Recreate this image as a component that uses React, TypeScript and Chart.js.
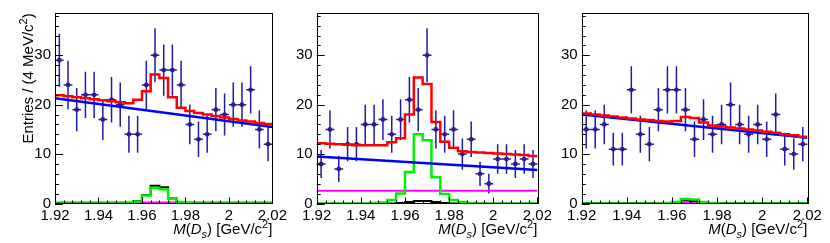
import React, { useEffect, useRef } from "react";
import { Chart, registerables } from "chart.js";
Chart.register(...registerables);

// ---------- data ----------
const binCenters = [
  1.922, 1.926, 1.93, 1.934, 1.938, 1.942, 1.946, 1.95, 1.954, 1.958, 1.962, 1.966, 1.97,
  1.974, 1.978, 1.982, 1.986, 1.99, 1.994, 1.998, 2.002, 2.006, 2.01, 2.014, 2.018,
];
const binHalfWidth = 0.002;
const xRange = [1.92, 2.02];
const xTickValues = [1.92, 1.94, 1.96, 1.98, 2.0, 2.02];
const yTickValues = [0, 10, 20, 30];
const yMax = 38.5;

// Panel 1
const dataP1 = [29, 24, 19, 22, 22, 17, 21, 20, 14, 14, 24, 30, 27, 27, 24, 16, 13, 14, 19, 18, 20, 20, 23, 15, 12];
const totalP1 = [21.9, 21.7, 21.5, 21.3, 21.1, 20.9, 20.7, 20.5, 20.3, 21.0, 22.7, 26.1, 25.4, 21.5, 19.4, 18.7, 18.3, 18.0, 17.7, 17.4, 17.1, 16.8, 16.6, 16.3, 16.1];
const bkgP1 = [21.3, 15.5];
const greenP1 = [0, 0, 0, 0, 0, 0, 0, 0, 0.1, 0.4, 1.6, 3.2, 2.9, 0.9, 0.3, 0.1, 0, 0, 0, 0, 0, 0, 0, 0, 0];
const blackP1 = [0, 0, 0, 0, 0, 0, 0, 0, 0.1, 0.5, 1.7, 3.6, 3.3, 1.0, 0.3, 0.1, 0, 0, 0, 0, 0, 0, 0, 0, 0];
const flatP1 = [0.2, 0.2];

// Panel 2
const dataP2 = [8, 15, 7, 12, 12, 16, 16, 17, 14, 17, 21, 19, 30, 15, 14, 15, 10, 13, 6, 4, 9, 9, 8, 9, 8];
const totalP2 = [12.2, 12.1, 12.0, 11.9, 11.8, 11.8, 11.8, 11.8, 12.4, 13.2, 18.0, 25.5, 24.2, 16.5, 12.5, 11.3, 10.6, 10.4, 10.3, 10.2, 10.1, 10.0, 9.9, 9.8, 9.6];
const bkgP2 = [9.5, 6.8];
const greenP2 = [0, 0, 0, 0, 0, 0, 0.1, 0.2, 0.7, 2.0, 6.4, 14.0, 12.8, 5.3, 1.9, 0.7, 0.3, 0.1, 0, 0, 0, 0, 0, 0, 0];
const blackP2 = [0, 0, 0, 0, 0, 0, 0, 0, 0, 0.1, 0.3, 0.5, 0.5, 0.3, 0.1, 0, 0, 0, 0, 0, 0, 0, 0, 0, 0];
const flatP2 = [2.6, 2.6];

// Panel 3
const dataP3 = [15, 15, 16, 11, 11, 23, 14, 12, 19, 23, 23, 19, 13, 17, 14, 16, 20, 16, 14, 16, 13, 18, 11, 10, 12];
const totalP3 = [18.2, 18.0, 17.8, 17.6, 17.4, 17.2, 17.0, 16.9, 16.7, 16.6, 16.7, 17.5, 17.3, 16.4, 15.8, 15.6, 15.4, 15.2, 15.0, 14.8, 14.5, 14.3, 14.0, 13.8, 13.5];
const bkgP3 = [18.0, 13.3];
const greenP3 = [0, 0, 0, 0, 0, 0, 0, 0, 0, 0.1, 0.3, 0.9, 0.8, 0.3, 0.1, 0, 0, 0, 0, 0, 0, 0, 0, 0, 0];
const blackP3 = [0, 0, 0, 0, 0, 0, 0, 0, 0, 0, 0.2, 0.6, 0.5, 0.2, 0, 0, 0, 0, 0, 0, 0, 0, 0, 0, 0];
const flatP3 = [0.1, 0.1];

const yTitle = ["Entries / (4 MeV/c", "2", ")"];

// ---------- layout ----------
const H = 243;
const PLOT_TOP = 13.3;
const PLOT_BOTTOM = 203.5;
const FONT = "'Liberation Sans', Arial, Helvetica, sans-serif";

type PanelCfg = {
  left: number;
  width: number;
  plotLeft: number;
  plotRight: number;
  showYTitle: boolean;
  data: number[];
  total: number[];
  bkg: number[];
  green: number[];
  black: number[];
  flat: number[];
};

const panels: PanelCfg[] = [
  { left: 0, width: 290, plotLeft: 55, plotRight: 274, showYTitle: true, data: dataP1, total: totalP1, bkg: bkgP1, green: greenP1, black: blackP1, flat: flatP1 },
  { left: 290, width: 265, plotLeft: 26.7, plotRight: 250.7, showYTitle: false, data: dataP2, total: totalP2, bkg: bkgP2, green: greenP2, black: blackP2, flat: flatP2 },
  { left: 555, width: 275, plotLeft: 26.7, plotRight: 252.3, showYTitle: false, data: dataP3, total: totalP3, bkg: bkgP3, green: greenP3, black: blackP3, flat: flatP3 },
];

const binEdges = binCenters.map((c) => c - binHalfWidth).concat([binCenters[binCenters.length - 1] + binHalfWidth]);
const stepPoints = (vals: number[]) => binEdges.map((x, i) => ({ x, y: vals[Math.min(i, vals.length - 1)] }));
const linePoints = (vals: number[]) => [
  { x: xRange[0], y: vals[0] },
  { x: xRange[1], y: vals[1] },
];

type Piece = { t: string; italic?: boolean; sub?: boolean; sup?: boolean };

function drawPieces(ctx: CanvasRenderingContext2D, pieces: Piece[], size: number, xRight: number, y: number) {
  const fontOf = (p: Piece) => {
    const s = p.sub || p.sup ? Math.round(size * 0.7) : size;
    return `${p.italic ? "italic " : ""}${s}px ${FONT}`;
  };
  let total = 0;
  const widths = pieces.map((p) => {
    ctx.font = fontOf(p);
    const w = ctx.measureText(p.t).width;
    total += w;
    return w;
  });
  let x = xRight - total;
  pieces.forEach((p, i) => {
    ctx.font = fontOf(p);
    const dy = p.sub ? size * 0.28 : p.sup ? -size * 0.42 : 0;
    ctx.fillText(p.t, x, y + dy);
    x += widths[i];
  });
}

const xTitlePieces: Piece[] = [
  { t: "M", italic: true },
  { t: "(" },
  { t: "D", italic: true },
  { t: "s", italic: true, sub: true },
  { t: ")" },
  { t: " [GeV/c" },
  { t: "2", sup: true },
  { t: "]" },
];

function Panel({ cfg }: { cfg: PanelCfg }) {
  const ref = useRef<HTMLCanvasElement>(null);
  useEffect(() => {
    const canvas = ref.current!;
    const DATA_INDEX = 5;

    const errorBars = {
      id: "errorBars",
      beforeDatasetDraw(chart: any, args: any) {
        if (args.index !== DATA_INDEX) return;
        const { ctx, scales } = chart;
        const xs = scales.x;
        const ys = scales.y;
        ctx.save();
        ctx.strokeStyle = "#1c1ca6";
        ctx.lineWidth = 1.5;
        cfg.data.forEach((v: number, i: number) => {
          const c = binCenters[i];
          const e = Math.sqrt(v);
          const px = xs.getPixelForValue(c);
          const py = ys.getPixelForValue(v);
          ctx.beginPath();
          ctx.moveTo(px, ys.getPixelForValue(v - e));
          ctx.lineTo(px, ys.getPixelForValue(v + e));
          ctx.moveTo(xs.getPixelForValue(c - binHalfWidth), py);
          ctx.lineTo(xs.getPixelForValue(c + binHalfWidth), py);
          ctx.stroke();
        });
        ctx.restore();
      },
    };

    const frame = {
      id: "rootFrame",
      afterDraw(chart: any) {
        const { ctx, chartArea: a, scales } = chart;
        const xs = scales.x;
        const ys = scales.y;
        ctx.save();
        ctx.strokeStyle = "#000";
        ctx.lineWidth = 1;
        ctx.strokeRect(Math.round(a.left) + 0.5, Math.round(a.top) + 0.5, Math.round(a.right - a.left), Math.round(a.bottom - a.top));
        ctx.beginPath();
        for (let v = 0; v <= yMax + 1e-9; v += 2) {
          const py = Math.round(ys.getPixelForValue(v)) + 0.5;
          const major = yTickValues.includes(v);
          ctx.moveTo(a.left, py);
          ctx.lineTo(a.left + (major ? 8 : 4), py);
        }
        for (let k = 0; k <= 25; k++) {
          const v = xRange[0] + k * 0.004;
          const px = Math.round(xs.getPixelForValue(v)) + 0.5;
          const major = k % 5 === 0;
          ctx.moveTo(px, a.bottom);
          ctx.lineTo(px, a.bottom - (major ? 6 : 3));
        }
        ctx.stroke();

        ctx.fillStyle = "#000";
        ctx.textBaseline = "alphabetic";
        ctx.textAlign = "left";
        drawPieces(ctx, xTitlePieces, 15, a.right, 234);

        if (cfg.showYTitle) {
          ctx.save();
          ctx.translate(33, a.top);
          ctx.rotate(-Math.PI / 2);
          drawPieces(ctx, [{ t: yTitle[0] }, { t: yTitle[1], sup: true }, { t: yTitle[2] }], 15, 0, 0);
          ctx.restore();
        }
        ctx.restore();
      },
    };

    const lineDs = (label: string, pts: any[], color: string, width: number, stepped: boolean) => ({
      type: "line" as const,
      label,
      data: pts,
      borderColor: color,
      backgroundColor: color,
      borderWidth: width,
      pointRadius: 0,
      fill: false,
      tension: 0,
      stepped: stepped ? ("before" as const) : false,
    });

    const chart = new Chart(canvas, {
      type: "line",
      data: {
        datasets: [
          lineDs("total", stepPoints(cfg.total), "#ff0000", 2.5, true),
          lineDs("background", linePoints(cfg.bkg), "#0000ff", 2.5, false),
          lineDs("signal", stepPoints(cfg.green), "#00f000", 2.5, true),
          lineDs("peaking", stepPoints(cfg.black), "#000000", 2, true),
          lineDs("flat", linePoints(cfg.flat), "#ff00ff", 2, false),
          {
            type: "scatter" as const,
            label: "data",
            data: binCenters.map((x, i) => ({ x, y: cfg.data[i] })),
            pointRadius: 2.4,
            pointBackgroundColor: "#36188c",
            pointBorderWidth: 0,
            showLine: false,
          } as any,
        ],
      },
      options: {
        responsive: false,
        animation: false,
        events: [],
        layout: { padding: { left: 0, top: PLOT_TOP, right: cfg.width - cfg.plotRight, bottom: 0 } },
        plugins: { legend: { display: false }, tooltip: { enabled: false }, title: { display: false } },
        scales: {
          x: {
            type: "linear",
            min: xRange[0],
            max: xRange[1],
            afterBuildTicks: (s: any) => {
              s.ticks = xTickValues.map((value) => ({ value }));
            },
            afterFit: (s: any) => {
              s.height = H - PLOT_BOTTOM;
            },
            grid: { display: false, drawTicks: false },
            border: { display: false },
            ticks: {
              autoSkip: false,
              maxRotation: 0,
              padding: 3,
              color: "#000",
              font: { family: FONT, size: 15 },
              callback: (v: any) => String(parseFloat(Number(v).toFixed(2))),
            },
          },
          y: {
            type: "linear",
            min: 0,
            max: yMax,
            afterBuildTicks: (s: any) => {
              s.ticks = yTickValues.map((value) => ({ value }));
            },
            afterFit: (s: any) => {
              s.width = cfg.plotLeft;
            },
            grid: { display: false, drawTicks: false },
            border: { display: false },
            ticks: {
              padding: 4,
              color: "#000",
              font: { family: FONT, size: 15 },
              callback: (v: any) => String(v),
            },
          },
        },
      },
      plugins: [errorBars, frame],
    } as any);
    return () => chart.destroy();
  }, [cfg]);
  return (
    <canvas
      ref={ref}
      width={cfg.width}
      height={H}
      style={{ position: "absolute", left: cfg.left, top: 0, width: cfg.width, height: H }}
    />
  );
}

export default function App() {
  return (
    <div style={{ position: "absolute", left: 0, top: 0, width: 830, height: H, background: "#fff" }}>
      {panels.map((p, i) => (
        <Panel key={i} cfg={p} />
      ))}
    </div>
  );
}
